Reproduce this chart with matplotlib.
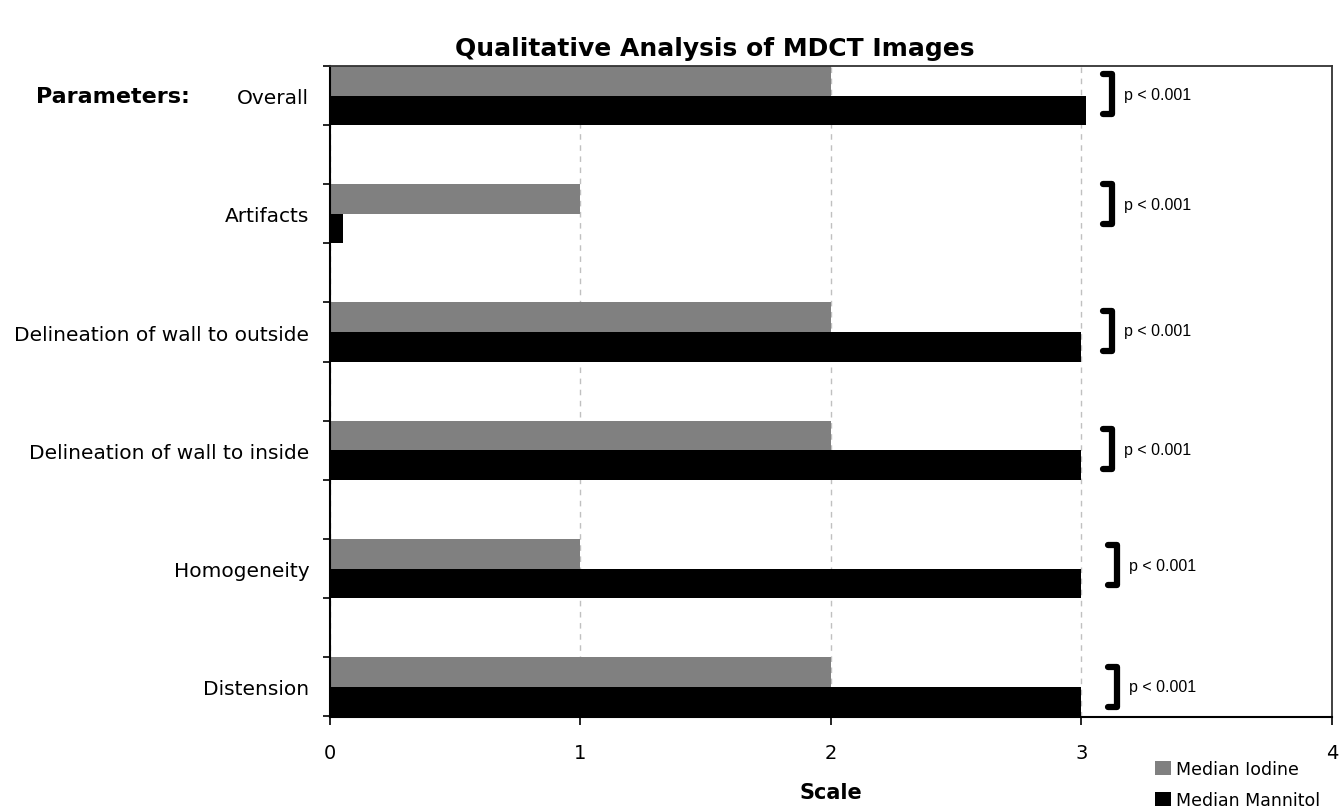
import matplotlib.pyplot as plt
import numpy as np

# categories bottom -> top (barh draws from y=0 up)
categories = ["Distension", "Homogeneity", "Delineation of wall to inside",
              "Delineation of wall to outside", "Artifacts", "Overall"]
iodine = [2, 1, 2, 2, 1, 2]
mannitol = [3, 3, 3, 3, 0.05, 3.02]
pvals = ["p < 0.001"] * 6
# small per-row nudges for the brackets, as in the figure
bracket_dx = [0.02, 0.02, 0, 0, 0, 0]
bracket_dy = [0.0, 0.03, 0.01, 0.01, 0.08, 0.01]

GRAY = "#808080"

fig = plt.figure(figsize=(13.43, 8.12), dpi=100)
ax = fig.add_axes([0.2457, 0.1158, 0.7461, 0.8017])

y = np.arange(len(categories))
h = 0.25
ax.barh(y + h / 2, iodine, h, color=GRAY, label="Median Iodine")
ax.barh(y - h / 2, mannitol, h, color="black", label="Median Mannitol")

ax.set_xlim(0, 4)
ax.set_ylim(-0.255, 5.25)
ax.set_xticks([0, 1, 2, 3, 4])
ax.set_yticks(y)
ax.set_yticklabels(categories)
ax.set_yticks(np.sort(np.concatenate([y - 0.25, y + 0.25])), minor=True)
ax.tick_params(axis="y", which="major", length=0, pad=15, labelsize=14.5)
ax.tick_params(axis="y", which="minor", length=5, width=1.2, direction="out")
ax.tick_params(axis="x", length=6, width=1.2, labelsize=14, pad=13)
ax.xaxis.grid(True, linestyle=(0, (4, 4)), color="#c0c0c0", lw=1)
ax.set_axisbelow(True)

for s in ["left", "bottom"]:
    ax.spines[s].set_linewidth(1.5)
for s in ["top", "right"]:
    ax.spines[s].set_linewidth(1.3)
    ax.spines[s].set_color("#333333")

# significance brackets
for i, p in enumerate(pvals):
    c = y[i] + bracket_dy[i]
    x0 = 3.085 + bracket_dx[i]
    x1 = x0 + 0.035
    ax.plot([x0, x1, x1, x0], [c + 0.17, c + 0.17, c - 0.17, c - 0.17],
            color="black", lw=4.5, solid_joinstyle="round", solid_capstyle="round",
            clip_on=False)
    ax.text(x1 + 0.05, c, p, fontsize=11.5, family="Liberation Sans", va="center")

ax.set_xlabel("Scale", fontsize=15, fontweight="bold", labelpad=14)

fig.text(0.532, 0.94, "Qualitative Analysis of MDCT Images", ha="center",
         va="center", fontsize=18, fontweight="bold")
fig.text(0.027, 0.881, "Parameters:", fontsize=16, fontweight="bold", va="center")

fig.legend(loc="upper left", bbox_to_anchor=(0.86, 0.063), frameon=False,
           fontsize=12.5, handlelength=0.9, handleheight=0.9, handletextpad=0.3,
           labelspacing=0.75, borderpad=0, borderaxespad=0)

fig.savefig("out.png", dpi=100)
